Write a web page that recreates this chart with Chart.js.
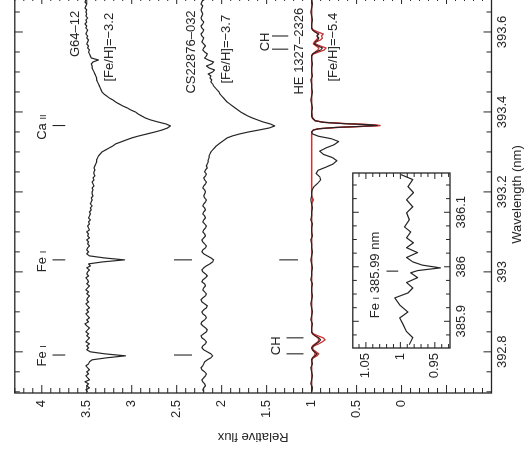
<!DOCTYPE html>
<html><head><meta charset="utf-8">
<script src="https://cdn.jsdelivr.net/npm/chart.js@4/dist/chart.umd.min.js"></script>
<style>
html,body{margin:0;padding:0;background:#fff;overflow:hidden;width:531px;height:457px;}
#rot{position:absolute;left:0;top:0;width:462px;height:531px;transform-origin:0 0;transform:translateY(457px) rotate(-90deg);}
#main{position:absolute;left:0;top:0;}
#inset{position:absolute;left:40px;top:340px;}
</style></head><body>
<div id="rot"><canvas id="main" width="462" height="531"></canvas><canvas id="inset" width="250" height="135"></canvas></div>
<script>
const FONT = '"Liberation Sans", Arial, Helvetica, sans-serif';
const INK = '#262626';
const RED = '#d2302f';

// ---- main spectra: common wavelength grid (nm) ----
const gridStart = 392.700, gridStep = 0.005;
const fluxG64 = [
3.49,3.51,3.47,3.50,3.48,3.52,3.47,3.49,3.51,3.48,
3.50,3.47,3.49,3.51,3.48,3.47,3.44,3.28,3.07,3.30,
3.46,3.50,3.48,3.50,3.47,3.51,3.49,3.47,3.50,3.48,
3.51,3.49,3.47,3.50,3.52,3.48,3.50,3.47,3.49,3.51,
3.48,3.50,3.47,3.49,3.51,3.48,3.50,3.49,3.47,3.50,
3.48,3.51,3.49,3.47,3.50,3.48,3.49,3.51,3.48,3.50,
3.49,3.47,3.50,3.46,3.48,3.32,3.08,3.31,3.47,3.50,
3.48,3.50,3.49,3.47,3.49,3.48,3.50,3.47,3.49,3.48,
3.50,3.47,3.48,3.49,3.47,3.48,3.46,3.48,3.47,3.46,
3.47,3.45,3.46,3.44,3.46,3.45,3.44,3.45,3.43,3.44,
3.44,3.43,3.44,3.42,3.43,3.44,3.42,3.43,3.41,3.42,
3.42,3.41,3.42,3.41,3.40,3.39,3.39,3.38,3.37,3.35,
3.33,3.29,3.25,3.21,3.18,3.12,3.06,3.00,2.92,2.83,
2.74,2.66,2.60,2.57,2.62,2.71,2.79,2.85,2.89,2.93,
2.96,3.01,3.05,3.10,3.14,3.18,3.21,3.25,3.28,3.31,
3.33,3.34,3.35,3.36,3.37,3.38,3.39,3.39,3.40,3.41,
3.42,3.43,3.44,3.44,3.45,3.43,3.37,3.45,3.46,3.47,
3.48,3.47,3.49,3.48,3.50,3.49,3.48,3.50,3.49,3.51,
3.50,3.49,3.51,3.50,3.52,3.50,3.51,3.49,3.51,3.50,
3.51,3.50,3.52,3.51,3.50,3.52,3.51,3.50,3.51];
const fluxCS = [
2.20,2.21,2.20,2.18,2.19,2.21,2.22,2.20,2.18,2.17,
2.19,2.22,2.23,2.21,2.20,2.19,2.16,2.12,2.10,2.12,
2.16,2.20,2.22,2.21,2.18,2.17,2.19,2.22,2.23,2.20,
2.17,2.16,2.18,2.21,2.23,2.22,2.19,2.17,2.18,2.21,
2.22,2.20,2.17,2.16,2.19,2.22,2.23,2.21,2.18,2.17,
2.19,2.21,2.20,2.18,2.19,2.22,2.21,2.18,2.16,2.18,
2.21,2.22,2.20,2.17,2.13,2.10,2.09,2.12,2.16,2.20,
2.22,2.21,2.18,2.17,2.19,2.21,2.22,2.20,2.18,2.19,
2.21,2.20,2.18,2.17,2.19,2.21,2.20,2.18,2.19,2.21,
2.20,2.18,2.19,2.21,2.20,2.18,2.17,2.19,2.20,2.19,
2.18,2.19,2.21,2.20,2.18,2.17,2.19,2.20,2.18,2.17,
2.19,2.18,2.16,2.17,2.16,2.15,2.15,2.14,2.14,2.13,
2.12,2.10,2.08,2.06,2.03,2.00,1.97,1.94,1.88,1.80,
1.70,1.58,1.47,1.41,1.46,1.54,1.60,1.66,1.71,1.75,
1.79,1.82,1.85,1.88,1.91,1.94,1.96,1.98,2.00,2.02,
2.03,2.05,2.07,2.09,2.10,2.12,2.11,2.13,2.12,2.15,
2.10,2.08,2.14,2.17,2.11,2.09,2.15,2.19,2.17,2.16,
2.19,2.21,2.20,2.18,2.20,2.22,2.21,2.20,2.22,2.23,
2.21,2.20,2.22,2.23,2.21,2.20,2.22,2.23,2.22,2.21,
2.22,2.23,2.22,2.21,2.23,2.22,2.21,2.22,2.23];

// ---- HE 1327-2326 observed (black) ----
const heWave = [
392.700,392.710,392.720,392.730,392.740,392.750,392.760,392.770,392.780,392.785,
392.790,392.795,392.800,392.805,392.810,392.815,392.820,392.825,392.830,392.835,
392.840,392.845,392.850,
392.86,392.87,392.88,392.89,392.90,392.91,392.92,392.93,392.94,392.95,
392.96,392.97,392.98,392.99,393.00,393.01,393.02,393.03,393.04,393.05,
393.06,393.07,393.08,393.09,393.10,393.11,393.12,393.13,393.14,393.15,
393.16,393.17,393.18,393.19,393.20,
393.207,393.214,393.222,393.230,393.238,393.246,393.254,393.262,393.270,393.278,
393.286,393.294,393.302,393.310,393.318,393.326,393.333,393.339,393.345,393.350,
393.355,393.358,393.361,393.364,393.366,393.368,393.371,393.374,393.378,393.384,
393.39,393.40,393.41,393.42,393.43,393.44,393.45,393.46,393.47,393.48,
393.49,393.50,393.51,393.52,393.53,393.54,
393.545,393.550,393.555,393.560,393.565,393.570,393.575,393.580,393.585,393.590,
393.595,393.600,393.605,393.610,
393.62,393.63,393.64,393.65,393.66,393.67,393.68,393.69];
const heFlux = [
1.00,0.99,1.01,1.00,0.99,1.00,1.01,0.99,1.00,0.99,
0.96,0.94,0.97,0.99,1.00,0.98,0.95,0.92,0.90,0.92,
0.96,0.99,1.00,
1.00,0.99,1.01,1.00,0.99,1.00,1.01,1.00,0.99,1.00,
1.00,0.99,1.01,1.00,1.00,0.99,1.00,1.01,1.00,0.99,
1.00,1.00,1.01,0.99,1.00,1.00,0.99,1.01,1.00,1.00,
0.99,1.00,1.01,1.00,1.00,
0.99,0.97,0.93,0.90,0.91,0.95,0.93,0.84,0.76,0.72,
0.77,0.87,0.91,0.84,0.75,0.70,0.78,0.92,0.99,1.00,
0.98,0.92,0.75,0.45,0.27,0.35,0.66,0.87,0.96,0.99,
1.00,1.00,0.99,1.00,1.01,1.00,0.99,1.00,1.00,1.01,
0.99,1.00,1.00,0.99,1.00,1.00,
0.99,0.95,0.90,0.88,0.93,0.97,0.96,0.93,0.92,0.94,
0.92,0.96,0.99,1.00,
1.00,0.99,1.00,1.01,1.00,0.99,1.00,1.00];

// ---- HE 1327-2326 synthetic spectra (red) ----
const modelWave = [
392.70,392.78,392.785,392.79,392.795,392.80,392.805,392.81,392.815,392.82,
392.825,392.83,392.835,392.84,392.845,392.85,392.86,393.17,393.18,393.19,
393.35,393.355,393.358,393.361,393.364,393.366,393.368,393.371,393.374,393.378,
393.385,393.40,393.54,393.545,393.55,393.555,393.56,393.565,393.57,393.575,
393.58,393.585,393.59,393.595,393.60,393.605,393.61,393.69];
const modelFluxA = [
1.00,1.00,0.98,0.94,0.92,0.95,0.98,0.99,0.97,0.92,
0.88,0.85,0.87,0.93,0.98,1.00,1.00,1.00,0.98,1.00,
1.00,0.98,0.92,0.74,0.42,0.24,0.33,0.64,0.86,0.96,
0.99,1.00,1.00,0.98,0.92,0.86,0.84,0.90,0.96,0.95,
0.90,0.88,0.89,0.87,0.93,0.98,1.00,1.00];
const modelFluxB = [
1.00,1.00,0.99,0.97,0.96,0.97,0.99,1.00,0.99,0.96,
0.93,0.92,0.93,0.96,0.99,1.00,1.00,1.00,0.99,1.00,
1.00,0.98,0.92,0.74,0.42,0.24,0.33,0.64,0.86,0.96,
0.99,1.00,1.00,0.99,0.96,0.93,0.92,0.95,0.98,0.97,
0.95,0.93,0.94,0.93,0.96,0.99,1.00,1.00];

// ---- inset: Fe I 385.99 nm in HE 1327-2326 ----
const insetWave = [385.857,385.870,385.881,385.894,385.906,385.917,385.930,385.943,385.952,385.961,
385.971,385.980,385.989,385.993,385.998,386.003,386.009,386.017,386.026,386.035,
386.044,386.053,386.064,386.073,386.086,386.099,386.110,386.123,386.136,386.147,
386.160,386.169];
const insetFlux = [0.987,0.982,0.991,0.996,1.001,0.989,1.001,1.008,0.989,0.982,
0.991,0.975,0.985,0.975,0.942,0.968,0.982,0.991,0.975,0.991,
0.981,0.991,0.985,0.994,0.987,0.991,0.982,0.991,0.981,0.989,
0.982,0.999];

// ---- tick labels ----
const wavelengthTicks = [392.8, 393, 393.2, 393.4, 393.6];
const fluxTicks = [0, 0.5, 1, 1.5, 2, 2.5, 3, 3.5, 4];
const insetWaveTicks = [385.9, 386, 386.1];
const insetFluxTicks = [0.95, 1, 1.05];

// ---- annotations (data coordinates) ----
const labelTexts = ['Fe {I}', 'Fe {I}', 'Ca {II}', 'G64–12', '[Fe/H]=−3.2', 'CS22876–032', '[Fe/H]=−3.7', 'CH', 'HE 1327–2326', '[Fe/H]=−5.4', 'CH'];
const labelWave  = [392.790, 393.026, 393.362, 393.595, 393.562, 393.550, 393.557, 393.575, 393.552, 393.562, 392.815];
const labelFlux  = [4.01, 4.01, 4.01, 3.64, 3.26, 2.35, 1.96, 1.53, 1.15, 0.77, 1.40];
const markerWave = [392.792, 393.030, 393.366, 392.792, 393.030, 393.030, 392.795, 392.835, 393.557, 393.590];
const markerTop  = [3.88, 3.88, 3.88, 2.53, 2.53, 1.36, 1.28, 1.28, 1.44, 1.44];
const markerBot  = [3.74, 3.74, 3.74, 2.33, 2.33, 1.15, 1.09, 1.09, 1.26, 1.26];
const insetLabel = ['Fe {I} 385.99 nm'];
const insetLabelWave = [385.985];
const insetLabelFlux = [1.038];
const insetMarkerWave = [385.992];
const insetMarkerTop = [1.020];
const insetMarkerBot = [1.003];

// ---- helpers ----
const gridWave = fluxG64.map((_, i) => +(gridStart + i * gridStep).toFixed(3));
const pairs = (xs, ys) => ys.map((y, i) => ({x: xs[i], y: y}));

function drawRich(ctx, text, cx, cy, size) {
  const parts = [];
  text.split(/(\{[^}]*\})/).forEach(p => {
    if (!p) return;
    if (p[0] === '{') parts.push({t: p.slice(1, -1), s: size * 0.72});
    else parts.push({t: p, s: size});
  });
  let w = 0;
  parts.forEach(p => { ctx.font = p.s + 'px ' + FONT; p.w = ctx.measureText(p.t).width; w += p.w; });
  let x = cx - w / 2;
  ctx.textBaseline = 'alphabetic'; ctx.textAlign = 'left';
  const base = cy + size * 0.36;
  parts.forEach(p => { ctx.font = p.s + 'px ' + FONT; ctx.fillText(p.t, x, base); x += p.w; });
}

function frameTicks(o) {
  return {
    id: 'frameTicks',
    afterDatasetsDraw(chart) {
      const {ctx, chartArea: a, scales: {x, y}} = chart;
      ctx.save();
      ctx.strokeStyle = INK; ctx.lineWidth = 1;
      ctx.beginPath();
      const isMul = (v, m) => Math.abs(v / m - Math.round(v / m)) < 1e-6;
      for (let k = Math.ceil(x.min / o.xStep - 1e-6); k <= Math.floor(x.max / o.xStep + 1e-6); k++) {
        const v = k * o.xStep, px = x.getPixelForValue(v);
        const L = isMul(v, o.xMajor) ? o.majorLen : o.minorLen;
        ctx.moveTo(px, a.bottom); ctx.lineTo(px, a.bottom - L);
        ctx.moveTo(px, a.top); ctx.lineTo(px, a.top + L);
      }
      for (let k = Math.ceil(y.min / o.yStep - 1e-6); k <= Math.floor(y.max / o.yStep + 1e-6); k++) {
        const v = k * o.yStep, py = y.getPixelForValue(v);
        const L = isMul(v, o.yMajor) ? o.majorLen : o.minorLen;
        ctx.moveTo(a.left, py); ctx.lineTo(a.left + L, py);
        ctx.moveTo(a.right, py); ctx.lineTo(a.right - L, py);
      }
      ctx.stroke();
      ctx.lineWidth = 1.3;
      ctx.strokeRect(a.left, a.top, a.right - a.left, a.bottom - a.top);
      ctx.restore();
    }
  };
}

function annotations(texts, tw, tf, mw, mt, mb) {
  return {
    id: 'annot',
    afterDatasetsDraw(chart) {
      const {ctx, scales: {x, y}} = chart;
      ctx.save();
      ctx.fillStyle = INK; ctx.strokeStyle = INK; ctx.lineWidth = 1.1;
      ctx.beginPath();
      mw.forEach((w, i) => {
        const px = x.getPixelForValue(w);
        ctx.moveTo(px, y.getPixelForValue(mt[i])); ctx.lineTo(px, y.getPixelForValue(mb[i]));
      });
      ctx.stroke();
      texts.forEach((t, i) => drawRich(ctx, t, x.getPixelForValue(tw[i]), y.getPixelForValue(tf[i]), 13));
      ctx.restore();
    }
  };
}

const whiteArea = {
  id: 'whiteArea',
  beforeDatasetsDraw(chart) {
    const {ctx, chartArea: a} = chart;
    ctx.save(); ctx.fillStyle = '#fff'; ctx.fillRect(a.left, a.top, a.right - a.left, a.bottom - a.top); ctx.restore();
  }
};

Chart.defaults.font.family = FONT;
Chart.defaults.font.size = 13;
Chart.defaults.color = INK;

const line = (data, color, w) => ({data, showLine: true, borderColor: color, borderWidth: w, pointRadius: 0, tension: 0, fill: false, borderJoinStyle: 'round'});

new Chart(document.getElementById('main'), {
  type: 'scatter',
  data: {datasets: [
    line(pairs(gridWave, fluxG64), INK, 1.2),
    line(pairs(gridWave, fluxCS), INK, 1.2),
    line(pairs(heWave, heFlux), INK, 1.2),
    line(pairs(modelWave, modelFluxB), RED, 1.3),
    line(pairs(modelWave, modelFluxA), RED, 1.3)
  ]},
  options: {
    responsive: false, animation: false, events: [],
    layout: {padding: {left: 0, right: 1, top: 11.7, bottom: 0}},
    plugins: {legend: {display: false}, tooltip: {enabled: false}},
    scales: {
      x: {
        type: 'linear', position: 'bottom', min: 392.697, max: 393.69,
        grid: {display: false, drawTicks: false}, border: {display: false},
        afterBuildTicks: s => { s.ticks = wavelengthTicks.map(v => ({value: v})); },
        afterFit: s => { s.height = 39.5; },
        ticks: {padding: 3, maxRotation: 0, minRotation: 0, autoSkip: false, callback: v => String(v)},
        title: {display: true, text: 'Wavelength (nm)', padding: {top: 0, bottom: 6}}
      },
      y: {
        type: 'linear', position: 'left', min: -1.0, max: 4.3,
        grid: {display: false, drawTicks: false}, border: {display: false},
        afterBuildTicks: s => { s.ticks = fluxTicks.map(v => ({value: v})); },
        afterFit: s => { s.width = 64; },
        ticks: {padding: 7, autoSkip: false, callback: v => String(v)},
        title: {display: true, text: 'Relative flux', padding: {top: 13, bottom: 0}}
      }
    }
  },
  plugins: [frameTicks({xStep: 0.05, xMajor: 0.2, yStep: 0.1, yMajor: 0.5, minorLen: 5, majorLen: 8}),
            annotations(labelTexts, labelWave, labelFlux, markerWave, markerTop, markerBot)]
});

new Chart(document.getElementById('inset'), {
  type: 'scatter',
  data: {datasets: [line(pairs(insetWave, insetFlux), INK, 1.2)]},
  options: {
    responsive: false, animation: false, events: [],
    layout: {padding: {left: 0, right: 6, top: 10, bottom: 0}},
    plugins: {legend: {display: false}, tooltip: {enabled: false}},
    scales: {
      x: {
        type: 'linear', position: 'bottom', min: 385.851, max: 386.172,
        grid: {display: false, drawTicks: false}, border: {display: false},
        afterBuildTicks: s => { s.ticks = insetWaveTicks.map(v => ({value: v})); },
        afterFit: s => { s.height = 25; },
        ticks: {padding: 4, maxRotation: 0, minRotation: 0, autoSkip: false, callback: v => String(v)}
      },
      y: {
        type: 'linear', position: 'left', min: 0.928, max: 1.069,
        grid: {display: false, drawTicks: false}, border: {display: false},
        afterBuildTicks: s => { s.ticks = insetFluxTicks.map(v => ({value: v})); },
        afterFit: s => { s.width = 69; },
        ticks: {padding: 5, autoSkip: false, callback: v => String(v)}
      }
    }
  },
  plugins: [whiteArea, frameTicks({xStep: 0.025, xMajor: 0.1, yStep: 0.01, yMajor: 0.05, minorLen: 4, majorLen: 6}),
            annotations(insetLabel, insetLabelWave, insetLabelFlux, insetMarkerWave, insetMarkerTop, insetMarkerBot)]
});
</script></body></html>
